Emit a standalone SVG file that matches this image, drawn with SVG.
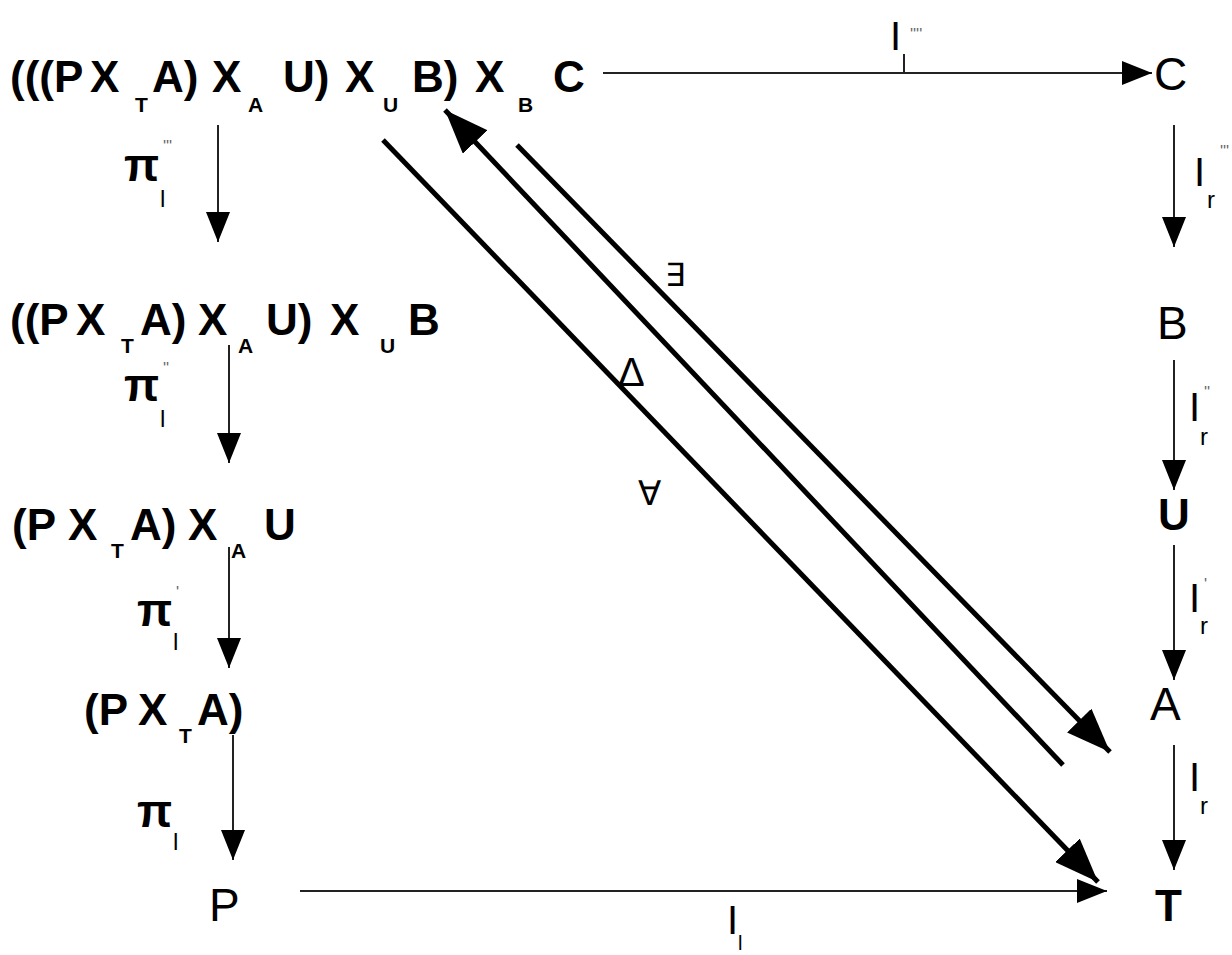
<svg xmlns="http://www.w3.org/2000/svg" width="1232" height="955" viewBox="0 0 1232 955">
<style>
.t{font-family:"Liberation Sans",Arial,sans-serif;fill:#000}
.b{font-weight:bold;font-size:44px}
.sb{font-weight:bold;font-size:21px}
.n{font-size:46px}
.nb{font-size:44px;font-weight:bold}
.bar{font-size:40px}
.pi{font-size:46px;font-weight:bold}
.sm{font-size:24px}
.sp{font-size:16px;fill:#666}
.thin{stroke:#222;stroke-width:2;fill:none}
.thick{stroke:#000;stroke-width:5;fill:none}
</style>
<defs>
<marker id="ah" markerUnits="userSpaceOnUse" markerWidth="30" markerHeight="24" refX="30" refY="12" orient="auto">
<path d="M0,0 L30,12 L0,24 Z" fill="#000"/>
</marker>
<marker id="ahb" markerUnits="userSpaceOnUse" markerWidth="44" markerHeight="34" refX="44" refY="17" orient="auto">
<path d="M0,0 L44,17 L0,34 Z" fill="#000"/>
</marker>
<marker id="ahbs" markerUnits="userSpaceOnUse" markerWidth="44" markerHeight="34" refX="0" refY="17" orient="auto">
<path d="M44,0 L0,17 L44,34 Z" fill="#000"/>
</marker>
</defs>

<g id="n1">
<text class="t b" y="92"><tspan x="10">(((P</tspan><tspan x="90">X</tspan><tspan x="152">A)</tspan><tspan x="212">X</tspan><tspan x="283">U)</tspan><tspan x="345">X</tspan><tspan x="412">B)</tspan><tspan x="475">X</tspan><tspan x="553">C</tspan></text>
<text class="t sb" y="112"><tspan x="135">T</tspan><tspan x="248">A</tspan><tspan x="383">U</tspan><tspan x="518">B</tspan></text>
</g>
<g id="n2">
<text class="t b" y="335"><tspan x="10">((P</tspan><tspan x="76">X</tspan><tspan x="140">A)</tspan><tspan x="198">X</tspan><tspan x="266">U)</tspan><tspan x="330">X</tspan><tspan x="408">B</tspan></text>
<text class="t sb" y="353"><tspan x="121">T</tspan><tspan x="238">A</tspan><tspan x="380">U</tspan></text>
</g>
<g id="n3">
<text class="t b" y="540"><tspan x="12">(P</tspan><tspan x="68">X</tspan><tspan x="130">A)</tspan><tspan x="188">X</tspan><tspan x="264">U</tspan></text>
<text class="t sb" y="558"><tspan x="111">T</tspan><tspan x="231">A</tspan></text>
</g>
<g id="n4">
<text class="t b" y="725"><tspan x="84">(P</tspan><tspan x="138">X</tspan><tspan x="197">A)</tspan></text>
<text class="t sb" y="743"><tspan x="179">T</tspan></text>
</g>
<g id="nP"><text class="t n" x="209" y="921">P</text></g>
<g id="nC"><text class="t n" x="1154" y="90">C</text></g>
<g id="nB"><text class="t n" x="1157" y="339">B</text></g>
<g id="nU"><text class="t nb" x="1158" y="530">U</text></g>
<g id="nA"><text class="t n" x="1150" y="720">A</text></g>
<g id="nT"><text class="t nb" x="1155" y="921">T</text></g>

<g id="connectors">
<line class="thin" x1="603" y1="73" x2="1152" y2="73" marker-end="url(#ah)"/>
<line class="thin" x1="300" y1="891" x2="1107" y2="891" marker-end="url(#ah)"/>
<line class="thin" x1="218" y1="125" x2="218" y2="242" marker-end="url(#ah)"/>
<line class="thin" x1="229" y1="345" x2="229" y2="463" marker-end="url(#ah)"/>
<line class="thin" x1="229" y1="547" x2="229" y2="668" marker-end="url(#ah)"/>
<line class="thin" x1="233" y1="735" x2="233" y2="860" marker-end="url(#ah)"/>
<line class="thin" x1="1174" y1="125" x2="1174" y2="247" marker-end="url(#ah)"/>
<line class="thin" x1="1174" y1="360" x2="1174" y2="490" marker-end="url(#ah)"/>
<line class="thin" x1="1174" y1="545" x2="1174" y2="680" marker-end="url(#ah)"/>
<line class="thin" x1="1174" y1="745" x2="1174" y2="870" marker-end="url(#ah)"/>
<line class="thick" x1="383" y1="140" x2="1098" y2="882" marker-end="url(#ahb)"/>
<line class="thick" x1="445" y1="110" x2="1063" y2="765" marker-start="url(#ahbs)"/>
<line class="thick" x1="517" y1="145" x2="1110" y2="752" marker-end="url(#ahb)"/>
</g>

<g id="labels">
<text class="t bar" x="890" y="50">I</text>
<line x1="904" y1="54" x2="904" y2="73" stroke="#222" stroke-width="2"/>
<text class="t sp" x="910" y="40">''''</text>

<text class="t pi" x="124" y="181">π</text><text class="t sm" x="160" y="207">l</text><text class="t sp" x="163" y="152">'''</text>
<text class="t pi" x="124" y="401">π</text><text class="t sm" x="160" y="427">l</text><text class="t sp" x="163" y="374">''</text>
<text class="t pi" x="137" y="626">π</text><text class="t sm" x="173" y="650">l</text><text class="t sp" x="176" y="598">'</text>
<text class="t pi" x="137" y="827">π</text><text class="t sm" x="173" y="850">l</text>

<text class="t bar" x="1194" y="186">I</text><text class="t sm" x="1207" y="208">r</text><text class="t sp" x="1220" y="157">'''</text>
<text class="t bar" x="1189" y="421">I</text><text class="t sm" x="1200" y="445">r</text><text class="t sp" x="1204" y="398">''</text>
<text class="t bar" x="1189" y="612">I</text><text class="t sm" x="1200" y="634">r</text><text class="t sp" x="1204" y="590">'</text>
<text class="t bar" x="1189" y="791">I</text><text class="t sm" x="1200" y="814">r</text>
<text class="t bar" x="727" y="934">I</text><text class="t" style="font-size:20px" x="738" y="950">l</text>

<text class="t" style="font-size:32px" x="665" y="286">∃</text>
<text class="t" style="font-size:40px" x="618" y="386">Δ</text>
<text class="t" style="font-size:34px" x="638" y="505">∀</text>
</g>
</svg>
